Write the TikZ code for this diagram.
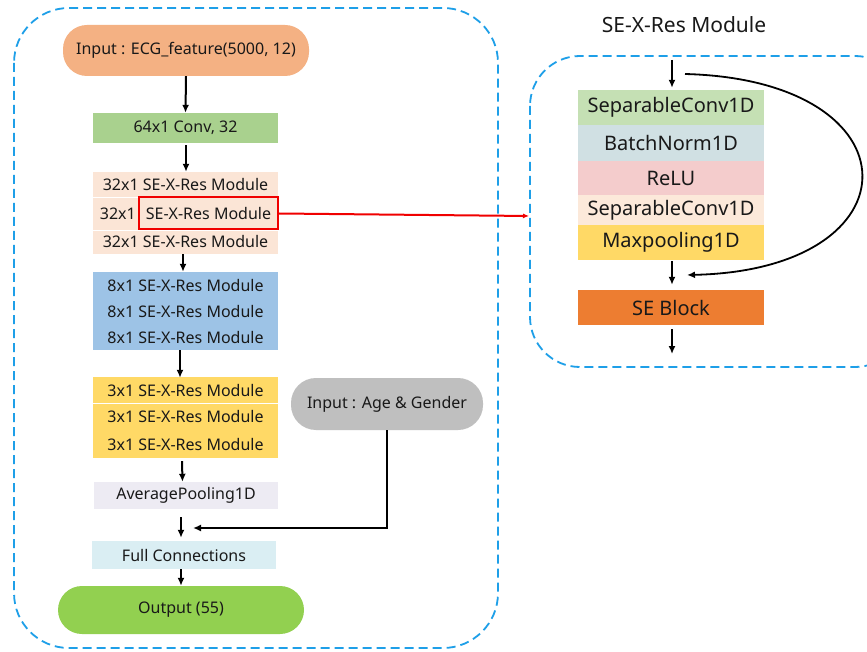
\documentclass[tikz,border=0pt]{standalone}
\usepackage{fontspec}
\setmainfont{Noto Sans}
\usetikzlibrary{arrows.meta}
\definecolor{dashblue}{HTML}{1E9FE8}
\definecolor{cEcg}{HTML}{F4B183}
\definecolor{cConv}{HTML}{A9D18E}
\definecolor{cThirty}{HTML}{FBE5D6}
\definecolor{cEight}{HTML}{9DC3E6}
\definecolor{cThree}{HTML}{FFD966}
\definecolor{cAvg}{HTML}{EDEBF3}
\definecolor{cFc}{HTML}{DAEEF3}
\definecolor{cOut}{HTML}{92D050}
\definecolor{cAge}{HTML}{BFBFBF}
\definecolor{cSepA}{HTML}{C5E0B4}
\definecolor{cBn}{HTML}{D0E0E3}
\definecolor{cRelu}{HTML}{F4CCCC}
\definecolor{cSepB}{HTML}{FCE9DA}
\definecolor{cSe}{HTML}{ED7D31}
\definecolor{cRed}{HTML}{F00000}
\tikzset{
  lfont/.style={font=\fontsize{16}{18}\selectfont, text=black!90},
  lbox/.style={rectangle, inner sep=0pt, minimum width=185pt, lfont},
  rbox/.style={rectangle, inner sep=0pt, minimum width=186pt, font=\fontsize{20}{22}\selectfont, text=black!90},
  pill/.style={rectangle, rounded corners=24pt, inner sep=0pt, lfont},
  arr/.style={-{Latex[length=8pt,width=7pt]}, line width=2pt, black},
  dashbox/.style={draw=dashblue, line width=1.8pt, dash pattern=on 9pt off 5pt},
  sep/.style={white, line width=1pt}
}
\begin{document}
\begin{tikzpicture}[x=1pt,y=-1pt]
\clip (0,0) rectangle (867,652);
\fill[white] (0,0) rectangle (867,652);
% dashed frames
\draw[dashbox, rounded corners=55pt] (14,8) rectangle (498,648);
\draw[dashbox, rounded corners=50pt] (530,56) rectangle (905,367);
% left column
\node[pill, fill=cEcg, minimum width=246pt, minimum height=51pt] (ecg) at (186,50.5) {Input : ECG\_feature(5000, 12)};
\node[lbox, fill=cConv, minimum height=30pt] (conv) at (185.5,128) {64x1 Conv, 32};
\node[lbox, fill=cThirty, minimum height=25pt] (t1) at (185.5,184.5) {32x1 SE-X-Res Module};
\node[lbox, fill=cThirty, minimum height=33pt] (t2) at (185.5,213.5) {};
\node[lbox, fill=cThirty, minimum height=24pt] (t3) at (185.5,242) {32x1 SE-X-Res Module};
\draw[sep] (t1.south west) -- (t1.south east);
\draw[sep] (t2.south west) -- (t2.south east);
\node[rectangle, draw=cRed, line width=2pt, inner sep=0pt, minimum width=139pt, minimum height=32pt, lfont] (red) at (208.5,213.5) {SE-X-Res Module};
\node[anchor=east, inner sep=0pt, lfont] (t2a) at (136,213.5) {32x1};
\node[lbox, fill=cEight, minimum height=26pt] (e1) at (185.5,285) {8x1 SE-X-Res Module};
\node[lbox, fill=cEight, minimum height=26pt] (e2) at (185.5,311) {8x1 SE-X-Res Module};
\node[lbox, fill=cEight, minimum height=26pt] (e3) at (185.5,337) {8x1 SE-X-Res Module};
\node[lbox, fill=cThree, minimum height=26pt] (h1) at (185.5,390) {3x1 SE-X-Res Module};
\node[lbox, fill=cThree, minimum height=27pt] (h2) at (185.5,416.5) {3x1 SE-X-Res Module};
\node[lbox, fill=cThree, minimum height=28pt] (h3) at (185.5,444) {3x1 SE-X-Res Module};
\draw[sep] (h1.south west) -- (h1.south east);
\node[lbox, fill=cAvg, minimum width=184pt, minimum height=27pt] (avg) at (186,495.5) {AveragePooling1D};
\node[pill, fill=cAge, minimum width=192pt, minimum height=52pt, rounded corners=25pt] (age) at (387,404) {Input : Age \& Gender};
\node[lbox, fill=cFc, minimum width=184pt, minimum height=28pt] (fc) at (184,555) {Full Connections};
\node[pill, fill=cOut, minimum width=246pt, minimum height=48pt] (out) at (181,610) {Output (55)};
\coordinate (merge) at (181,528);
% left arrows
\draw[arr] (ecg.south) -- (conv.north);
\draw[arr] ([xshift=0.5pt,yshift=-2pt]conv.south) -- ([xshift=0.5pt]t1.north);
\draw[arr] ([xshift=-2.5pt]t3.south) -- ([xshift=-2.5pt]e1.north);
\draw[arr] ([xshift=-5.5pt]e3.south) -- ([xshift=-5.5pt,yshift=-1pt]h1.north);
\draw[arr] ([xshift=-3.5pt,yshift=-3pt]h3.south) -- ([xshift=-3.5pt]avg.north);
\draw[arr] ([xshift=-5pt,yshift=-8pt]avg.south) -- ([xshift=-3pt,yshift=3pt]fc.north);
\draw[arr] (age.south) |- ([xshift=12pt]merge);
\draw[arr] ([xshift=-3pt]fc.south) -- ([xshift=0pt]out.north);
% red connector
\coordinate (rin) at (529,216);
\draw[cRed, line width=2pt, -{Latex[length=6pt,width=5pt]}] (red.east) -- (rin);
% right module
\node[font=\fontsize{21}{24}\selectfont, text=black!90] (title) at (684,25) {SE-X-Res Module};
\node[rbox, fill=cSepA, minimum height=35pt] (s1) at (671,107.5) {SeparableConv1D};
\node[rbox, fill=cBn, minimum height=36pt] (s2) at (671,143) {BatchNorm1D};
\node[rbox, fill=cRelu, minimum height=34pt] (s3) at (671,178) {ReLU};
\node[rbox, fill=cSepB, minimum height=30pt] (s4) at (671,210) {SeparableConv1D};
\node[rbox, fill=cThree, minimum height=35pt] (s5) at (671,242.5) {Maxpooling1D};
\node[rbox, fill=cSe, minimum height=35pt] (se) at (671,307.5) {SE Block};
\coordinate (rtop) at (672,60);
\coordinate (rbot) at (672,354);
\coordinate (skipA) at (685,74);
\coordinate (skipB) at (687,275);
\draw[arr] (rtop) -- ([xshift=1pt,yshift=2pt]s1.north);
\draw[arr] ([xshift=1pt,yshift=-1pt]s5.south) -- ([xshift=1pt,yshift=5pt]se.north);
\draw[arr] ([xshift=1pt,yshift=-4pt]se.south) -- (rbot);
\draw[-{Latex[length=8pt,width=7pt]}, line width=1.8pt] (skipA) .. controls (920,80) and (920,270) .. (skipB);
\end{tikzpicture}
\end{document}
